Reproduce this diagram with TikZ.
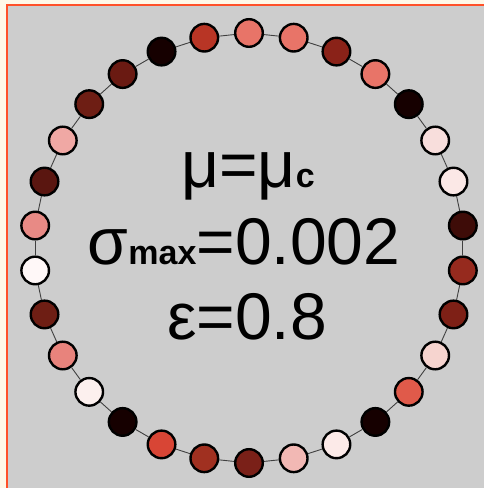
\documentclass[tikz,border=0pt]{standalone}
\usepackage{fontspec}
\setmainfont{Liberation Sans}
\definecolor{FrameOrange}{RGB}{255,80,40}
\definecolor{PageCream}{RGB}{255,248,232}
\definecolor{NoiseGray}{RGB}{205,205,205}
\usetikzlibrary{positioning}

\begin{document}
\begin{tikzpicture}[
    x=1pt, y=1pt,
    osc/.style={circle, draw=black, line width=2.4pt, minimum size=27.6pt, inner sep=0pt},
    link/.style={draw=black!75, line width=0.9pt},
    lbl/.style={font=\fontsize{66}{74}\selectfont, inner sep=0pt, anchor=base}
]
    \useasboundingbox (0,0) rectangle (484,488);
    \fill[PageCream] (0,0) rectangle (484,488);
    \draw[FrameOrange, line width=2pt, fill=NoiseGray] (7,-5) rectangle (490,483);

    \coordinate (ctr) at (249,240);

    % oscillators round the ring, clockwise from the top
    \foreach \hex [count=\k from 0] in {E87468,E87468,8A2218,E87468,160000,F8DEDC,FBE8E6,3E0C08,962A1E,7E2016,
        F6D4CF,E05A4A,160000,FCEAE8,F2B8B4,7A2018,A03020,D84535,160000,FCF0EE,
        E8837C,6E1E14,FFF8F8,E88A85,5A1610,F0A8A4,6E1E14,6A1A12,160000,B83525} {
        \pgfmathsetmacro\ang{90-12*\k}
        \definecolor{osccol}{HTML}{\hex}
        \node[osc, fill=osccol] (p\k) at ([shift={(\ang:215)}]ctr) {};
    }
    \foreach \k [remember=\k as \prev (initially 29)] in {0,...,29}
        \draw[link] (p\prev) -- (p\k);

    \node[lbl] (mu) at (248,300) {μ=μ{\fontsize{34}{38}\selectfont\bfseries c}};
    \node[lbl] (sigma) at (244,223) {σ{\fontsize{34}{38}\selectfont\bfseries max}=0.002};
    \node[lbl] (eps) at (247,148) {ε=0.8};
\end{tikzpicture}
\end{document}
